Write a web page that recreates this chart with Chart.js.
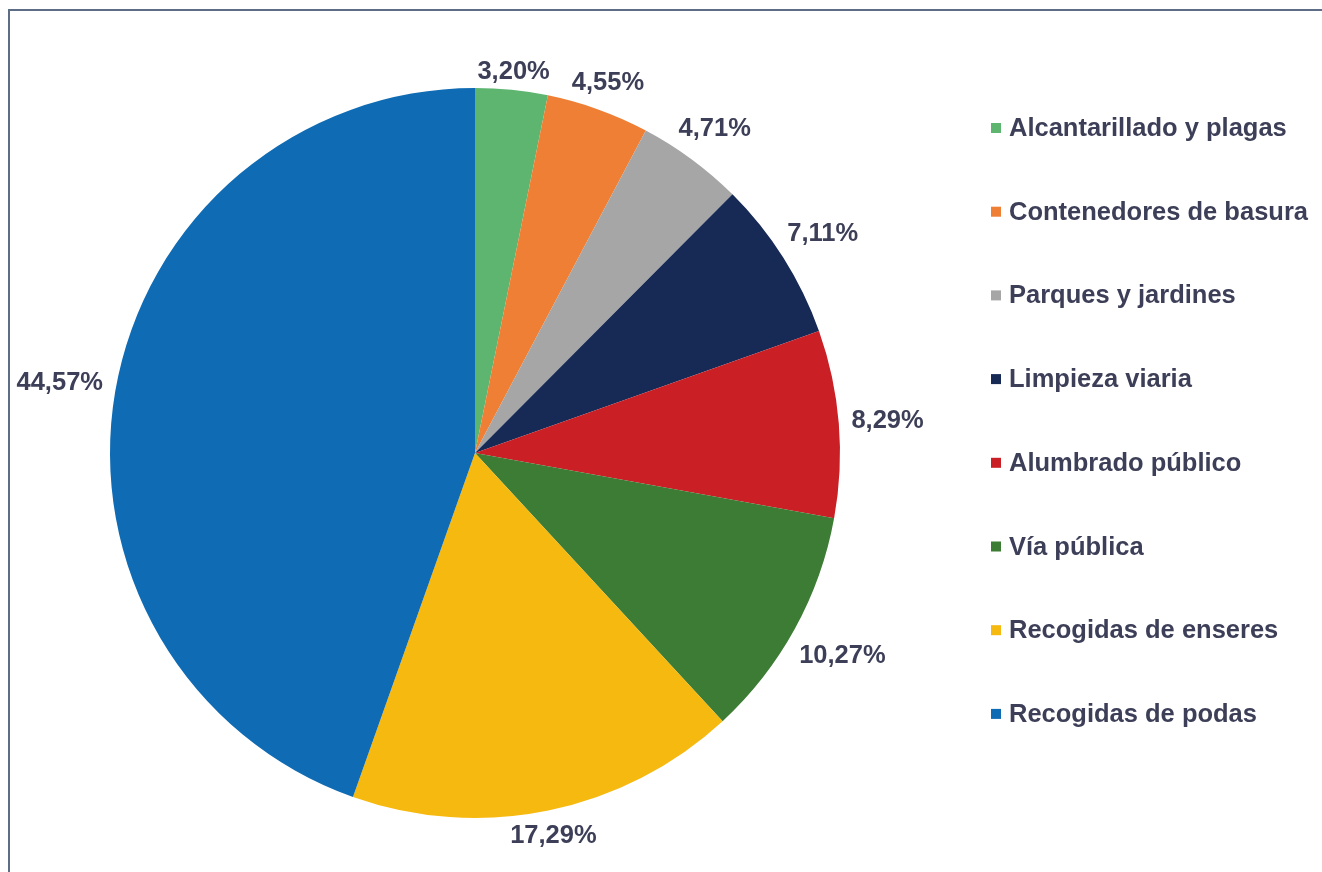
<!DOCTYPE html>
<html lang="es">
<head>
  <meta charset="UTF-8">
  <title>Distribución de incidencias</title>
  <script src="https://cdn.jsdelivr.net/npm/chart.js"></script>
  <style>
    html, body {
      margin: 0;
      padding: 0;
      background: #ffffff;
    }
    .frame {
      position: absolute;
      left: 8px;
      top: 9px;
      width: 1314px;
      height: 863px;
      border-top: 2px solid #5d6d85;
      border-left: 2px solid #5d6d85;
      pointer-events: none;
    }
    .chart-container {
      position: absolute;
      left: 0;
      top: 0;
      width: 1322px;
      height: 872px;
    }
  </style>
</head>
<body>
  <div class="chart-container">
    <canvas id="pieChart"></canvas>
  </div>
  <div class="frame"></div>

  <script>
    const categorias = [
      'Alcantarillado y plagas',
      'Contenedores de basura',
      'Parques y jardines',
      'Limpieza viaria',
      'Alumbrado público',
      'Vía pública',
      'Recogidas de enseres',
      'Recogidas de podas'
    ];
    const porcentajes = [3.20, 4.55, 4.71, 7.11, 8.29, 10.27, 17.29, 44.57];
    const colores = ['#5db56f', '#ee7f35', '#a6a6a6', '#172a56', '#c91f25', '#3d7c35', '#f6b910', '#0f6bb3'];

    const textColor = '#3c3f57';
    const fuente = 'bold 25.5px "Liberation Sans", Arial, sans-serif';

    function formato(v) {
      return v.toFixed(2).replace('.', ',') + '%';
    }

    // etiquetas de porcentaje fuera de cada sector
    const etiquetasPlugin = {
      id: 'etiquetas',
      afterDatasetsDraw(chart) {
        const ctx = chart.ctx;
        const meta = chart.getDatasetMeta(0);
        ctx.save();
        ctx.font = fuente;
        ctx.fillStyle = textColor;
        ctx.textAlign = 'center';
        ctx.textBaseline = 'middle';
        meta.data.forEach((arc, i) => {
          const p = arc.getProps(['x', 'y', 'startAngle', 'endAngle', 'outerRadius'], true);
          const mid = (p.startAngle + p.endAngle) / 2;
          const texto = formato(chart.data.datasets[0].data[i]);
          const w = ctx.measureText(texto).width;
          const c = Math.cos(mid), s = Math.sin(mid);
          const r = p.outerRadius + 4 + Math.abs(c) * (w / 2 + 8) + Math.abs(s) * 11;
          ctx.fillText(texto, p.x + c * r, p.y + s * r + 1);
        });
        ctx.restore();
      }
    };

    // leyenda a la derecha
    const leyendaPlugin = {
      id: 'leyenda',
      afterDraw(chart) {
        const ctx = chart.ctx;
        const x = 991;
        const y0 = 128;
        const paso = 83.7;
        ctx.save();
        ctx.font = fuente;
        ctx.textBaseline = 'middle';
        ctx.textAlign = 'left';
        chart.data.labels.forEach((lab, i) => {
          const y = y0 + i * paso;
          ctx.fillStyle = chart.data.datasets[0].backgroundColor[i];
          ctx.fillRect(x, y - 5, 10, 10);
          ctx.fillStyle = textColor;
          ctx.fillText(lab, x + 18, y + 1);
        });
        ctx.restore();
      }
    };

    const ctx = document.getElementById('pieChart').getContext('2d');
    new Chart(ctx, {
      type: 'pie',
      data: {
        labels: categorias,
        datasets: [{
          data: porcentajes,
          backgroundColor: colores,
          borderWidth: 0
        }]
      },
      options: {
        responsive: true,
        maintainAspectRatio: false,
        animation: false,
        layout: {
          padding: { left: 110, right: 482, top: 88, bottom: 54 }
        },
        plugins: {
          legend: { display: false },
          tooltip: { enabled: false }
        }
      },
      plugins: [etiquetasPlugin, leyendaPlugin]
    });
  </script>
</body>
</html>
